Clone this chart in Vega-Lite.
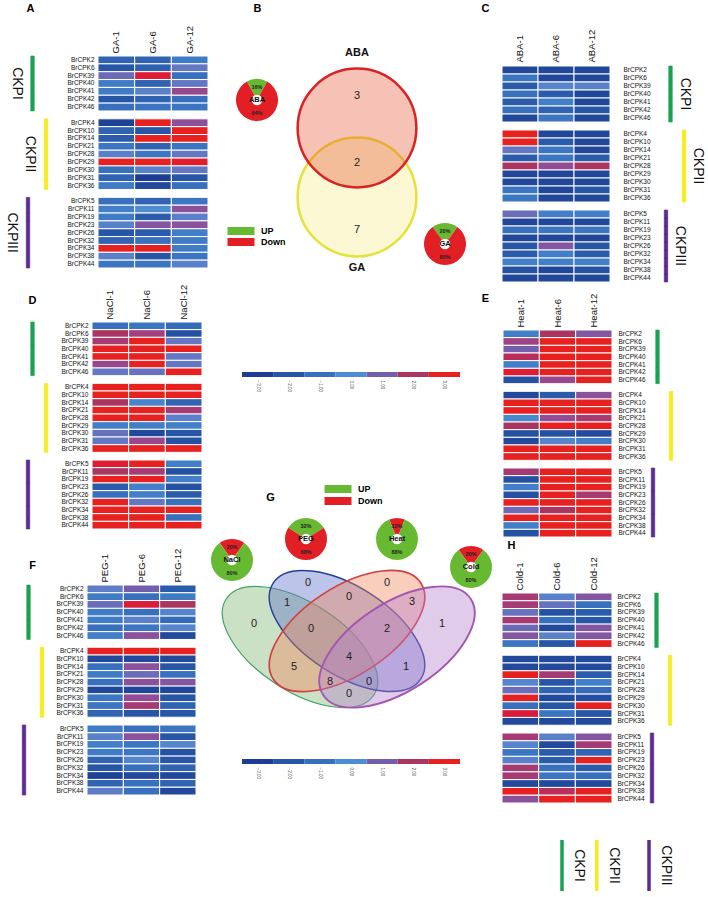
{
"$schema":"https://vega.github.io/schema/vega-lite/v6.json",
"width":708,"height":897,"padding":0,"autosize":{"type":"none"},"background":"white",
"config":{"view":{"stroke":null},"font":"Liberation Sans","axis":{"labelFont":"Liberation Sans","labelColor":"#111","ticks":false,"domain":false,"grid":false,"titleAngle":0,"titleAlign":"center","titleBaseline":"middle","titleFontSize":11,"titleFontWeight":"bold","titleColor":"#000","titleFont":"Liberation Sans"},"text":{"font":"Liberation Sans"}},
"resolve":{"scale":{"x":"independent","y":"independent","color":"independent","fill":"independent","stroke":"independent","shape":"independent","strokeWidth":"independent"}},
"datasets":{
"groups":[{"g":"BrCPK2","grp":"CKPI"},{"g":"BrCPK6","grp":"CKPI"},{"g":"BrCPK39","grp":"CKPI"},{"g":"BrCPK40","grp":"CKPI","mid":true},{"g":"BrCPK41","grp":"CKPI"},{"g":"BrCPK42","grp":"CKPI"},{"g":"BrCPK46","grp":"CKPI"},{"g":"BrCPK4","grp":"CKPII"},{"g":"BrCPK10","grp":"CKPII"},{"g":"BrCPK14","grp":"CKPII"},{"g":"BrCPK21","grp":"CKPII"},{"g":"BrCPK28","grp":"CKPII","mid":true},{"g":"BrCPK29","grp":"CKPII"},{"g":"BrCPK30","grp":"CKPII"},{"g":"BrCPK31","grp":"CKPII"},{"g":"BrCPK36","grp":"CKPII"},{"g":"BrCPK5","grp":"CKPIII"},{"g":"BrCPK11","grp":"CKPIII"},{"g":"BrCPK19","grp":"CKPIII"},{"g":"BrCPK23","grp":"CKPIII"},{"g":"BrCPK26","grp":"CKPIII","mid":true},{"g":"BrCPK32","grp":"CKPIII"},{"g":"BrCPK34","grp":"CKPIII"},{"g":"BrCPK38","grp":"CKPIII"},{"g":"BrCPK44","grp":"CKPIII"}],
"scalebar":[{"v":-3},{"v":-2},{"v":-1},{"v":0},{"v":1},{"v":2},{"v":3}],
"GA":[
{"g":"BrCPK2","t":"GA-1","v":-1.5},{"g":"BrCPK2","t":"GA-6","v":-1.5},{"g":"BrCPK2","t":"GA-12","v":-0.6},
{"g":"BrCPK6","t":"GA-1","v":-2},{"g":"BrCPK6","t":"GA-6","v":-1.6},{"g":"BrCPK6","t":"GA-12","v":0.5},
{"g":"BrCPK39","t":"GA-1","v":0.8},{"g":"BrCPK39","t":"GA-6","v":2.8},{"g":"BrCPK39","t":"GA-12","v":-1},
{"g":"BrCPK40","t":"GA-1","v":-0.6},{"g":"BrCPK40","t":"GA-6","v":-1.5},{"g":"BrCPK40","t":"GA-12","v":0.5},
{"g":"BrCPK41","t":"GA-1","v":-0.6},{"g":"BrCPK41","t":"GA-6","v":0.3},{"g":"BrCPK41","t":"GA-12","v":1.5},
{"g":"BrCPK42","t":"GA-1","v":-2},{"g":"BrCPK42","t":"GA-6","v":-1.5},{"g":"BrCPK42","t":"GA-12","v":-1},
{"g":"BrCPK46","t":"GA-1","v":-1},{"g":"BrCPK46","t":"GA-6","v":-0.8},{"g":"BrCPK46","t":"GA-12","v":-0.8},
{"g":"BrCPK4","t":"GA-1","v":-2.8},{"g":"BrCPK4","t":"GA-6","v":3},{"g":"BrCPK4","t":"GA-12","v":1.3},
{"g":"BrCPK10","t":"GA-1","v":-1.5},{"g":"BrCPK10","t":"GA-6","v":-2},{"g":"BrCPK10","t":"GA-12","v":3},
{"g":"BrCPK14","t":"GA-1","v":-1.8},{"g":"BrCPK14","t":"GA-6","v":3},{"g":"BrCPK14","t":"GA-12","v":3},
{"g":"BrCPK21","t":"GA-1","v":-0.8},{"g":"BrCPK21","t":"GA-6","v":-1.5},{"g":"BrCPK21","t":"GA-12","v":-0.8},
{"g":"BrCPK28","t":"GA-1","v":0.3},{"g":"BrCPK28","t":"GA-6","v":-0.8},{"g":"BrCPK28","t":"GA-12","v":0.5},
{"g":"BrCPK29","t":"GA-1","v":3},{"g":"BrCPK29","t":"GA-6","v":3},{"g":"BrCPK29","t":"GA-12","v":2.9},
{"g":"BrCPK30","t":"GA-1","v":-1},{"g":"BrCPK30","t":"GA-6","v":0.3},{"g":"BrCPK30","t":"GA-12","v":0.5},
{"g":"BrCPK31","t":"GA-1","v":-1.5},{"g":"BrCPK31","t":"GA-6","v":-3},{"g":"BrCPK31","t":"GA-12","v":-2},
{"g":"BrCPK36","t":"GA-1","v":-0.6},{"g":"BrCPK36","t":"GA-6","v":-2.5},{"g":"BrCPK36","t":"GA-12","v":-1},
{"g":"BrCPK5","t":"GA-1","v":-1},{"g":"BrCPK5","t":"GA-6","v":-1.5},{"g":"BrCPK5","t":"GA-12","v":-0.8},
{"g":"BrCPK11","t":"GA-1","v":-0.5},{"g":"BrCPK11","t":"GA-6","v":0},{"g":"BrCPK11","t":"GA-12","v":1.3},
{"g":"BrCPK19","t":"GA-1","v":-0.6},{"g":"BrCPK19","t":"GA-6","v":-1.8},{"g":"BrCPK19","t":"GA-12","v":0.3},
{"g":"BrCPK23","t":"GA-1","v":0.3},{"g":"BrCPK23","t":"GA-6","v":1.2},{"g":"BrCPK23","t":"GA-12","v":1.3},
{"g":"BrCPK26","t":"GA-1","v":-2},{"g":"BrCPK26","t":"GA-6","v":-1.8},{"g":"BrCPK26","t":"GA-12","v":-0.5},
{"g":"BrCPK32","t":"GA-1","v":-1.5},{"g":"BrCPK32","t":"GA-6","v":-1},{"g":"BrCPK32","t":"GA-12","v":-0.6},
{"g":"BrCPK34","t":"GA-1","v":3},{"g":"BrCPK34","t":"GA-6","v":3},{"g":"BrCPK34","t":"GA-12","v":-0.6},
{"g":"BrCPK38","t":"GA-1","v":0.3},{"g":"BrCPK38","t":"GA-6","v":-2},{"g":"BrCPK38","t":"GA-12","v":-0.8},
{"g":"BrCPK44","t":"GA-1","v":-0.8},{"g":"BrCPK44","t":"GA-6","v":-0.8},{"g":"BrCPK44","t":"GA-12","v":0.3}],
"ABA":[
{"g":"BrCPK2","t":"ABA-1","v":-2.6},{"g":"BrCPK2","t":"ABA-6","v":-2.6},{"g":"BrCPK2","t":"ABA-12","v":-2.6},
{"g":"BrCPK6","t":"ABA-1","v":-0.8},{"g":"BrCPK6","t":"ABA-6","v":-2.6},{"g":"BrCPK6","t":"ABA-12","v":-2.6},
{"g":"BrCPK39","t":"ABA-1","v":-1.8},{"g":"BrCPK39","t":"ABA-6","v":0.2},{"g":"BrCPK39","t":"ABA-12","v":0.3},
{"g":"BrCPK40","t":"ABA-1","v":-1},{"g":"BrCPK40","t":"ABA-6","v":-1.8},{"g":"BrCPK40","t":"ABA-12","v":-2.6},
{"g":"BrCPK41","t":"ABA-1","v":-1.8},{"g":"BrCPK41","t":"ABA-6","v":-0.5},{"g":"BrCPK41","t":"ABA-12","v":-2.6},
{"g":"BrCPK42","t":"ABA-1","v":-1},{"g":"BrCPK42","t":"ABA-6","v":-1.5},{"g":"BrCPK42","t":"ABA-12","v":-2},
{"g":"BrCPK46","t":"ABA-1","v":-2.6},{"g":"BrCPK46","t":"ABA-6","v":-0.8},{"g":"BrCPK46","t":"ABA-12","v":-2.6},
{"g":"BrCPK4","t":"ABA-1","v":3},{"g":"BrCPK4","t":"ABA-6","v":-2.6},{"g":"BrCPK4","t":"ABA-12","v":-2.6},
{"g":"BrCPK10","t":"ABA-1","v":3},{"g":"BrCPK10","t":"ABA-6","v":-1.8},{"g":"BrCPK10","t":"ABA-12","v":-2.6},
{"g":"BrCPK14","t":"ABA-1","v":0.5},{"g":"BrCPK14","t":"ABA-6","v":-0.8},{"g":"BrCPK14","t":"ABA-12","v":-2.6},
{"g":"BrCPK21","t":"ABA-1","v":-1.8},{"g":"BrCPK21","t":"ABA-6","v":-0.8},{"g":"BrCPK21","t":"ABA-12","v":-1.8},
{"g":"BrCPK28","t":"ABA-1","v":2},{"g":"BrCPK28","t":"ABA-6","v":1.4},{"g":"BrCPK28","t":"ABA-12","v":2},
{"g":"BrCPK29","t":"ABA-1","v":-2.6},{"g":"BrCPK29","t":"ABA-6","v":-2.6},{"g":"BrCPK29","t":"ABA-12","v":-2.6},
{"g":"BrCPK30","t":"ABA-1","v":-2.6},{"g":"BrCPK30","t":"ABA-6","v":-2.6},{"g":"BrCPK30","t":"ABA-12","v":-2.6},
{"g":"BrCPK31","t":"ABA-1","v":-0.8},{"g":"BrCPK31","t":"ABA-6","v":-2.6},{"g":"BrCPK31","t":"ABA-12","v":-2},
{"g":"BrCPK36","t":"ABA-1","v":-0.8},{"g":"BrCPK36","t":"ABA-6","v":-2.6},{"g":"BrCPK36","t":"ABA-12","v":-2.6},
{"g":"BrCPK5","t":"ABA-1","v":0.7},{"g":"BrCPK5","t":"ABA-6","v":-0.5},{"g":"BrCPK5","t":"ABA-12","v":-0.5},
{"g":"BrCPK11","t":"ABA-1","v":-2.6},{"g":"BrCPK11","t":"ABA-6","v":-2.6},{"g":"BrCPK11","t":"ABA-12","v":-2.6},
{"g":"BrCPK19","t":"ABA-1","v":-1},{"g":"BrCPK19","t":"ABA-6","v":-0.8},{"g":"BrCPK19","t":"ABA-12","v":-0.8},
{"g":"BrCPK23","t":"ABA-1","v":-2.6},{"g":"BrCPK23","t":"ABA-6","v":-2.6},{"g":"BrCPK23","t":"ABA-12","v":-2.6},
{"g":"BrCPK26","t":"ABA-1","v":-2},{"g":"BrCPK26","t":"ABA-6","v":1.2},{"g":"BrCPK26","t":"ABA-12","v":-2},
{"g":"BrCPK32","t":"ABA-1","v":-1.8},{"g":"BrCPK32","t":"ABA-6","v":-0.5},{"g":"BrCPK32","t":"ABA-12","v":-1.8},
{"g":"BrCPK34","t":"ABA-1","v":-0.5},{"g":"BrCPK34","t":"ABA-6","v":-0.5},{"g":"BrCPK34","t":"ABA-12","v":-0.5},
{"g":"BrCPK38","t":"ABA-1","v":-2.2},{"g":"BrCPK38","t":"ABA-6","v":-2.6},{"g":"BrCPK38","t":"ABA-12","v":-2.2},
{"g":"BrCPK44","t":"ABA-1","v":-2.6},{"g":"BrCPK44","t":"ABA-6","v":-2.6},{"g":"BrCPK44","t":"ABA-12","v":-2.6}],
"NaCl":[
{"g":"BrCPK2","t":"NaCl-1","v":-1},{"g":"BrCPK2","t":"NaCl-6","v":-0.8},{"g":"BrCPK2","t":"NaCl-12","v":-1.2},
{"g":"BrCPK6","t":"NaCl-1","v":2},{"g":"BrCPK6","t":"NaCl-6","v":1.7},{"g":"BrCPK6","t":"NaCl-12","v":-2.2},
{"g":"BrCPK39","t":"NaCl-1","v":1.8},{"g":"BrCPK39","t":"NaCl-6","v":3},{"g":"BrCPK39","t":"NaCl-12","v":0.5},
{"g":"BrCPK40","t":"NaCl-1","v":3},{"g":"BrCPK40","t":"NaCl-6","v":3},{"g":"BrCPK40","t":"NaCl-12","v":3},
{"g":"BrCPK41","t":"NaCl-1","v":3},{"g":"BrCPK41","t":"NaCl-6","v":3},{"g":"BrCPK41","t":"NaCl-12","v":0.5},
{"g":"BrCPK42","t":"NaCl-1","v":1.5},{"g":"BrCPK42","t":"NaCl-6","v":3},{"g":"BrCPK42","t":"NaCl-12","v":0.5},
{"g":"BrCPK46","t":"NaCl-1","v":0.5},{"g":"BrCPK46","t":"NaCl-6","v":0.6},{"g":"BrCPK46","t":"NaCl-12","v":3},
{"g":"BrCPK4","t":"NaCl-1","v":3},{"g":"BrCPK4","t":"NaCl-6","v":3},{"g":"BrCPK4","t":"NaCl-12","v":3},
{"g":"BrCPK10","t":"NaCl-1","v":3},{"g":"BrCPK10","t":"NaCl-6","v":3},{"g":"BrCPK10","t":"NaCl-12","v":3},
{"g":"BrCPK14","t":"NaCl-1","v":2},{"g":"BrCPK14","t":"NaCl-6","v":-0.3},{"g":"BrCPK14","t":"NaCl-12","v":-1.5},
{"g":"BrCPK21","t":"NaCl-1","v":3},{"g":"BrCPK21","t":"NaCl-6","v":3},{"g":"BrCPK21","t":"NaCl-12","v":1.8},
{"g":"BrCPK28","t":"NaCl-1","v":3},{"g":"BrCPK28","t":"NaCl-6","v":3},{"g":"BrCPK28","t":"NaCl-12","v":0.3},
{"g":"BrCPK29","t":"NaCl-1","v":-0.5},{"g":"BrCPK29","t":"NaCl-6","v":-0.5},{"g":"BrCPK29","t":"NaCl-12","v":-0.5},
{"g":"BrCPK30","t":"NaCl-1","v":0.6},{"g":"BrCPK30","t":"NaCl-6","v":-2.5},{"g":"BrCPK30","t":"NaCl-12","v":-2},
{"g":"BrCPK31","t":"NaCl-1","v":0.5},{"g":"BrCPK31","t":"NaCl-6","v":1.5},{"g":"BrCPK31","t":"NaCl-12","v":-2.2},
{"g":"BrCPK36","t":"NaCl-1","v":3},{"g":"BrCPK36","t":"NaCl-6","v":3},{"g":"BrCPK36","t":"NaCl-12","v":3},
{"g":"BrCPK5","t":"NaCl-1","v":2.8},{"g":"BrCPK5","t":"NaCl-6","v":3},{"g":"BrCPK5","t":"NaCl-12","v":-0.5},
{"g":"BrCPK11","t":"NaCl-1","v":2},{"g":"BrCPK11","t":"NaCl-6","v":1.8},{"g":"BrCPK11","t":"NaCl-12","v":-2.2},
{"g":"BrCPK19","t":"NaCl-1","v":3},{"g":"BrCPK19","t":"NaCl-6","v":3},{"g":"BrCPK19","t":"NaCl-12","v":-0.5},
{"g":"BrCPK23","t":"NaCl-1","v":-1.8},{"g":"BrCPK23","t":"NaCl-6","v":-0.5},{"g":"BrCPK23","t":"NaCl-12","v":-2.2},
{"g":"BrCPK26","t":"NaCl-1","v":-1},{"g":"BrCPK26","t":"NaCl-6","v":-0.5},{"g":"BrCPK26","t":"NaCl-12","v":-1.8},
{"g":"BrCPK32","t":"NaCl-1","v":3},{"g":"BrCPK32","t":"NaCl-6","v":0.5},{"g":"BrCPK32","t":"NaCl-12","v":-1},
{"g":"BrCPK34","t":"NaCl-1","v":3},{"g":"BrCPK34","t":"NaCl-6","v":3},{"g":"BrCPK34","t":"NaCl-12","v":3},
{"g":"BrCPK38","t":"NaCl-1","v":3},{"g":"BrCPK38","t":"NaCl-6","v":3},{"g":"BrCPK38","t":"NaCl-12","v":-1},
{"g":"BrCPK44","t":"NaCl-1","v":3},{"g":"BrCPK44","t":"NaCl-6","v":3},{"g":"BrCPK44","t":"NaCl-12","v":3}],
"Heat":[
{"g":"BrCPK2","t":"Heat-1","v":-0.5},{"g":"BrCPK2","t":"Heat-6","v":2},{"g":"BrCPK2","t":"Heat-12","v":1.2},
{"g":"BrCPK6","t":"Heat-1","v":1.6},{"g":"BrCPK6","t":"Heat-6","v":3},{"g":"BrCPK6","t":"Heat-12","v":3},
{"g":"BrCPK39","t":"Heat-1","v":1},{"g":"BrCPK39","t":"Heat-6","v":3},{"g":"BrCPK39","t":"Heat-12","v":3},
{"g":"BrCPK40","t":"Heat-1","v":2.2},{"g":"BrCPK40","t":"Heat-6","v":3},{"g":"BrCPK40","t":"Heat-12","v":3},
{"g":"BrCPK41","t":"Heat-1","v":-0.5},{"g":"BrCPK41","t":"Heat-6","v":3},{"g":"BrCPK41","t":"Heat-12","v":3},
{"g":"BrCPK42","t":"Heat-1","v":2.8},{"g":"BrCPK42","t":"Heat-6","v":3},{"g":"BrCPK42","t":"Heat-12","v":3},
{"g":"BrCPK46","t":"Heat-1","v":-2.2},{"g":"BrCPK46","t":"Heat-6","v":1.5},{"g":"BrCPK46","t":"Heat-12","v":3},
{"g":"BrCPK4","t":"Heat-1","v":-2.5},{"g":"BrCPK4","t":"Heat-6","v":-1.8},{"g":"BrCPK4","t":"Heat-12","v":1.3},
{"g":"BrCPK10","t":"Heat-1","v":3},{"g":"BrCPK10","t":"Heat-6","v":3},{"g":"BrCPK10","t":"Heat-12","v":3},
{"g":"BrCPK14","t":"Heat-1","v":3},{"g":"BrCPK14","t":"Heat-6","v":3},{"g":"BrCPK14","t":"Heat-12","v":3},
{"g":"BrCPK21","t":"Heat-1","v":-0.2},{"g":"BrCPK21","t":"Heat-6","v":1.4},{"g":"BrCPK21","t":"Heat-12","v":1.8},
{"g":"BrCPK28","t":"Heat-1","v":2},{"g":"BrCPK28","t":"Heat-6","v":3},{"g":"BrCPK28","t":"Heat-12","v":3},
{"g":"BrCPK29","t":"Heat-1","v":-2.2},{"g":"BrCPK29","t":"Heat-6","v":-2.2},{"g":"BrCPK29","t":"Heat-12","v":-2.5},
{"g":"BrCPK30","t":"Heat-1","v":-2.5},{"g":"BrCPK30","t":"Heat-6","v":0.2},{"g":"BrCPK30","t":"Heat-12","v":-0.5},
{"g":"BrCPK31","t":"Heat-1","v":3},{"g":"BrCPK31","t":"Heat-6","v":3},{"g":"BrCPK31","t":"Heat-12","v":3},
{"g":"BrCPK36","t":"Heat-1","v":3},{"g":"BrCPK36","t":"Heat-6","v":3},{"g":"BrCPK36","t":"Heat-12","v":3},
{"g":"BrCPK5","t":"Heat-1","v":1.8},{"g":"BrCPK5","t":"Heat-6","v":3},{"g":"BrCPK5","t":"Heat-12","v":3},
{"g":"BrCPK11","t":"Heat-1","v":-2.2},{"g":"BrCPK11","t":"Heat-6","v":3},{"g":"BrCPK11","t":"Heat-12","v":3},
{"g":"BrCPK19","t":"Heat-1","v":-0.5},{"g":"BrCPK19","t":"Heat-6","v":3},{"g":"BrCPK19","t":"Heat-12","v":3},
{"g":"BrCPK23","t":"Heat-1","v":-2.2},{"g":"BrCPK23","t":"Heat-6","v":3},{"g":"BrCPK23","t":"Heat-12","v":1.8},
{"g":"BrCPK26","t":"Heat-1","v":3},{"g":"BrCPK26","t":"Heat-6","v":3},{"g":"BrCPK26","t":"Heat-12","v":3},
{"g":"BrCPK32","t":"Heat-1","v":0.8},{"g":"BrCPK32","t":"Heat-6","v":2},{"g":"BrCPK32","t":"Heat-12","v":3},
{"g":"BrCPK34","t":"Heat-1","v":3},{"g":"BrCPK34","t":"Heat-6","v":3},{"g":"BrCPK34","t":"Heat-12","v":3},
{"g":"BrCPK38","t":"Heat-1","v":-0.5},{"g":"BrCPK38","t":"Heat-6","v":3},{"g":"BrCPK38","t":"Heat-12","v":3},
{"g":"BrCPK44","t":"Heat-1","v":-2.2},{"g":"BrCPK44","t":"Heat-6","v":3},{"g":"BrCPK44","t":"Heat-12","v":3}],
"PEG":[
{"g":"BrCPK2","t":"PEG-1","v":0.4},{"g":"BrCPK2","t":"PEG-6","v":1},{"g":"BrCPK2","t":"PEG-12","v":-1.8},
{"g":"BrCPK6","t":"PEG-1","v":-0.6},{"g":"BrCPK6","t":"PEG-6","v":-1},{"g":"BrCPK6","t":"PEG-12","v":-0.6},
{"g":"BrCPK39","t":"PEG-1","v":0.7},{"g":"BrCPK39","t":"PEG-6","v":2.7},{"g":"BrCPK39","t":"PEG-12","v":2},
{"g":"BrCPK40","t":"PEG-1","v":-0.6},{"g":"BrCPK40","t":"PEG-6","v":-1},{"g":"BrCPK40","t":"PEG-12","v":0.2},
{"g":"BrCPK41","t":"PEG-1","v":-0.6},{"g":"BrCPK41","t":"PEG-6","v":0.3},{"g":"BrCPK41","t":"PEG-12","v":-1.2},
{"g":"BrCPK42","t":"PEG-1","v":-1},{"g":"BrCPK42","t":"PEG-6","v":-0.8},{"g":"BrCPK42","t":"PEG-12","v":0.2},
{"g":"BrCPK46","t":"PEG-1","v":-0.5},{"g":"BrCPK46","t":"PEG-6","v":1.3},{"g":"BrCPK46","t":"PEG-12","v":-2.5},
{"g":"BrCPK4","t":"PEG-1","v":3},{"g":"BrCPK4","t":"PEG-6","v":3},{"g":"BrCPK4","t":"PEG-12","v":3},
{"g":"BrCPK10","t":"PEG-1","v":-2.5},{"g":"BrCPK10","t":"PEG-6","v":-2.5},{"g":"BrCPK10","t":"PEG-12","v":-2.5},
{"g":"BrCPK14","t":"PEG-1","v":-1},{"g":"BrCPK14","t":"PEG-6","v":1.3},{"g":"BrCPK14","t":"PEG-12","v":-2},
{"g":"BrCPK21","t":"PEG-1","v":-0.6},{"g":"BrCPK21","t":"PEG-6","v":0.7},{"g":"BrCPK21","t":"PEG-12","v":-1},
{"g":"BrCPK28","t":"PEG-1","v":-1},{"g":"BrCPK28","t":"PEG-6","v":1.3},{"g":"BrCPK28","t":"PEG-12","v":1.2},
{"g":"BrCPK29","t":"PEG-1","v":-2.6},{"g":"BrCPK29","t":"PEG-6","v":-2.6},{"g":"BrCPK29","t":"PEG-12","v":-2.6},
{"g":"BrCPK30","t":"PEG-1","v":-0.8},{"g":"BrCPK30","t":"PEG-6","v":1.4},{"g":"BrCPK30","t":"PEG-12","v":-2},
{"g":"BrCPK31","t":"PEG-1","v":-0.8},{"g":"BrCPK31","t":"PEG-6","v":1.8},{"g":"BrCPK31","t":"PEG-12","v":-1.5},
{"g":"BrCPK36","t":"PEG-1","v":-1.5},{"g":"BrCPK36","t":"PEG-6","v":-2},{"g":"BrCPK36","t":"PEG-12","v":-2},
{"g":"BrCPK5","t":"PEG-1","v":-0.6},{"g":"BrCPK5","t":"PEG-6","v":-1},{"g":"BrCPK5","t":"PEG-12","v":-0.8},
{"g":"BrCPK11","t":"PEG-1","v":0.3},{"g":"BrCPK11","t":"PEG-6","v":1.3},{"g":"BrCPK11","t":"PEG-12","v":-2},
{"g":"BrCPK19","t":"PEG-1","v":-0.5},{"g":"BrCPK19","t":"PEG-6","v":-0.8},{"g":"BrCPK19","t":"PEG-12","v":0.2},
{"g":"BrCPK23","t":"PEG-1","v":-0.6},{"g":"BrCPK23","t":"PEG-6","v":-0.8},{"g":"BrCPK23","t":"PEG-12","v":-2.2},
{"g":"BrCPK26","t":"PEG-1","v":-1.5},{"g":"BrCPK26","t":"PEG-6","v":0.2},{"g":"BrCPK26","t":"PEG-12","v":-2},
{"g":"BrCPK32","t":"PEG-1","v":-2},{"g":"BrCPK32","t":"PEG-6","v":-1},{"g":"BrCPK32","t":"PEG-12","v":-1.5},
{"g":"BrCPK34","t":"PEG-1","v":-2.8},{"g":"BrCPK34","t":"PEG-6","v":-2.5},{"g":"BrCPK34","t":"PEG-12","v":-2.5},
{"g":"BrCPK38","t":"PEG-1","v":-1.5},{"g":"BrCPK38","t":"PEG-6","v":-1},{"g":"BrCPK38","t":"PEG-12","v":-1.5},
{"g":"BrCPK44","t":"PEG-1","v":0.4},{"g":"BrCPK44","t":"PEG-6","v":-1},{"g":"BrCPK44","t":"PEG-12","v":-2.5}],
"Cold":[
{"g":"BrCPK2","t":"Cold-1","v":1.8},{"g":"BrCPK2","t":"Cold-6","v":0.3},{"g":"BrCPK2","t":"Cold-12","v":1.2},
{"g":"BrCPK6","t":"Cold-1","v":1.8},{"g":"BrCPK6","t":"Cold-6","v":0.6},{"g":"BrCPK6","t":"Cold-12","v":-1},
{"g":"BrCPK39","t":"Cold-1","v":0.6},{"g":"BrCPK39","t":"Cold-6","v":-2.2},{"g":"BrCPK39","t":"Cold-12","v":-1.8},
{"g":"BrCPK40","t":"Cold-1","v":1.8},{"g":"BrCPK40","t":"Cold-6","v":-1},{"g":"BrCPK40","t":"Cold-12","v":-2},
{"g":"BrCPK41","t":"Cold-1","v":0.8},{"g":"BrCPK41","t":"Cold-6","v":-2.5},{"g":"BrCPK41","t":"Cold-12","v":1.2},
{"g":"BrCPK42","t":"Cold-1","v":1.2},{"g":"BrCPK42","t":"Cold-6","v":0.3},{"g":"BrCPK42","t":"Cold-12","v":1.2},
{"g":"BrCPK46","t":"Cold-1","v":-0.8},{"g":"BrCPK46","t":"Cold-6","v":-2},{"g":"BrCPK46","t":"Cold-12","v":3},
{"g":"BrCPK4","t":"Cold-1","v":-2.5},{"g":"BrCPK4","t":"Cold-6","v":-2.5},{"g":"BrCPK4","t":"Cold-12","v":-2.5},
{"g":"BrCPK10","t":"Cold-1","v":-2.5},{"g":"BrCPK10","t":"Cold-6","v":-2.5},{"g":"BrCPK10","t":"Cold-12","v":-2.5},
{"g":"BrCPK14","t":"Cold-1","v":3},{"g":"BrCPK14","t":"Cold-6","v":1.8},{"g":"BrCPK14","t":"Cold-12","v":-1.8},
{"g":"BrCPK21","t":"Cold-1","v":0.2},{"g":"BrCPK21","t":"Cold-6","v":-2},{"g":"BrCPK21","t":"Cold-12","v":-0.5},
{"g":"BrCPK28","t":"Cold-1","v":0.7},{"g":"BrCPK28","t":"Cold-6","v":-1.5},{"g":"BrCPK28","t":"Cold-12","v":-1.2},
{"g":"BrCPK29","t":"Cold-1","v":3},{"g":"BrCPK29","t":"Cold-6","v":-2.5},{"g":"BrCPK29","t":"Cold-12","v":-2.3},
{"g":"BrCPK30","t":"Cold-1","v":-1},{"g":"BrCPK30","t":"Cold-6","v":-2},{"g":"BrCPK30","t":"Cold-12","v":3},
{"g":"BrCPK31","t":"Cold-1","v":2.7},{"g":"BrCPK31","t":"Cold-6","v":-0.8},{"g":"BrCPK31","t":"Cold-12","v":-2},
{"g":"BrCPK36","t":"Cold-1","v":-2.5},{"g":"BrCPK36","t":"Cold-6","v":-2.5},{"g":"BrCPK36","t":"Cold-12","v":-2.5},
{"g":"BrCPK5","t":"Cold-1","v":1.8},{"g":"BrCPK5","t":"Cold-6","v":0.3},{"g":"BrCPK5","t":"Cold-12","v":1.2},
{"g":"BrCPK11","t":"Cold-1","v":0.2},{"g":"BrCPK11","t":"Cold-6","v":-2.5},{"g":"BrCPK11","t":"Cold-12","v":1.8},
{"g":"BrCPK19","t":"Cold-1","v":-0.8},{"g":"BrCPK19","t":"Cold-6","v":-1.8},{"g":"BrCPK19","t":"Cold-12","v":-1.5},
{"g":"BrCPK23","t":"Cold-1","v":0.3},{"g":"BrCPK23","t":"Cold-6","v":-1.8},{"g":"BrCPK23","t":"Cold-12","v":3},
{"g":"BrCPK26","t":"Cold-1","v":1.8},{"g":"BrCPK26","t":"Cold-6","v":-1},{"g":"BrCPK26","t":"Cold-12","v":-1.8},
{"g":"BrCPK32","t":"Cold-1","v":1.8},{"g":"BrCPK32","t":"Cold-6","v":-0.8},{"g":"BrCPK32","t":"Cold-12","v":-1},
{"g":"BrCPK34","t":"Cold-1","v":-2.5},{"g":"BrCPK34","t":"Cold-6","v":-2.5},{"g":"BrCPK34","t":"Cold-12","v":-2.5},
{"g":"BrCPK38","t":"Cold-1","v":3},{"g":"BrCPK38","t":"Cold-6","v":2.2},{"g":"BrCPK38","t":"Cold-12","v":3},
{"g":"BrCPK44","t":"Cold-1","v":1.3},{"g":"BrCPK44","t":"Cold-6","v":3},{"g":"BrCPK44","t":"Cold-12","v":3}],
"setsB":[{"set":"GA","x":13.7,"y":8.3},{"set":"ABA","x":13.7,"y":15.2}],
"namesB":[{"t":"ABA","x":13.7,"y":22.7},{"t":"GA","x":13.7,"y":1.2}],
"countsB":[{"n":3,"x":13.7,"y":18.4},{"n":2,"x":13.7,"y":11.7},{"n":7,"x":13.7,"y":5.0}],
"slicesB":[{"pie":"ABA","s":"UP","a":-0.08,"b":0.08,"p":0.16,"x":3.7,"y":18.0},{"pie":"ABA","s":"Down","a":0.08,"b":0.92,"p":0.84,"x":3.7,"y":18.0},{"pie":"GA","s":"UP","a":-0.1,"b":0.1,"p":0.2,"x":22.5,"y":3.6},{"pie":"GA","s":"Down","a":0.1,"b":0.9,"p":0.8,"x":22.5,"y":3.6}],
"setsG":[{"set":"NaCl","x":8.0,"y":6.5},{"set":"PEG","x":12.7,"y":8.1},{"set":"Heat","x":12.7,"y":8.1},{"set":"Cold","x":17.7,"y":6.5}],
"countsG":[{"n":0,"x":3.4,"y":8.8},{"n":1,"x":6.7,"y":10.9},{"n":0,"x":8.8,"y":12.9},{"n":0,"x":16.7,"y":12.9},{"n":0,"x":12.9,"y":11.5},{"n":3,"x":19.2,"y":11.0},{"n":1,"x":22.2,"y":8.8},{"n":0,"x":9.1,"y":8.3},{"n":2,"x":16.7,"y":8.3},{"n":4,"x":12.9,"y":5.5},{"n":5,"x":7.4,"y":4.5},{"n":1,"x":18.6,"y":4.5},{"n":8,"x":11.0,"y":3.0},{"n":0,"x":14.9,"y":3.0},{"n":0,"x":12.9,"y":1.8}],
"slicesG":[{"pie":"NaCl","s":"Down","a":-0.1,"b":0.1,"p":0.2,"x":1.2,"y":15.2},{"pie":"NaCl","s":"UP","a":0.1,"b":0.9,"p":0.8,"x":1.2,"y":15.2},{"pie":"PEG","s":"UP","a":-0.16,"b":0.16,"p":0.32,"x":8.6,"y":17.3},{"pie":"PEG","s":"Down","a":0.16,"b":0.84,"p":0.68,"x":8.6,"y":17.3},{"pie":"Heat","s":"Down","a":-0.06,"b":0.06,"p":0.12,"x":17.7,"y":17.3},{"pie":"Heat","s":"UP","a":0.06,"b":0.94,"p":0.88,"x":17.7,"y":17.3},{"pie":"Cold","s":"Down","a":-0.1,"b":0.1,"p":0.2,"x":25.1,"y":14.5},{"pie":"Cold","s":"UP","a":0.1,"b":0.9,"p":0.8,"x":25.1,"y":14.5}]
},
"layer":[
{"encoding":{"y":{"field":"g","type":"nominal","scale":{"domain":["BrCPK2","BrCPK6","BrCPK39","BrCPK40","BrCPK41","BrCPK42","BrCPK46"," ","BrCPK4","BrCPK10","BrCPK14","BrCPK21","BrCPK28","BrCPK29","BrCPK30","BrCPK31","BrCPK36","  ","BrCPK5","BrCPK11","BrCPK19","BrCPK23","BrCPK26","BrCPK32","BrCPK34","BrCPK38","BrCPK44"],"range":[56,268],"paddingInner":0,"paddingOuter":0},"axis":{"orient":"left","offset":-98,"title":null,"labelFontSize":6.5,"labelPadding":4}}},
"layer":[
{"data":{"name":"GA"},"mark":{"type":"rect","stroke":"white","strokeWidth":1},"encoding":{"x":{"field":"t","type":"nominal","scale":{"domain":["GA-1","GA-6","GA-12"],"range":[98,208],"paddingInner":0,"paddingOuter":0},"axis":{"orient":"top","offset":-56,"labelAngle":-90,"labelFontSize":9.5,"labelPadding":3,"title":"A","titleX":30,"titleY":-48}},"color":{"field":"v","type":"quantitative","scale":{"domain":[-3,-2,-1,0,1,2,3],"range":["#1c3d91","#2856a7","#3870bd","#4d8ed3","#735fab","#aa3660","#e6211f"]},"legend":null}}},
{"data":{"name":"groups"},"encoding":{"x":{"field":"grp","type":"nominal","scale":{"type":"point","domain":["CKPIII","CKPI","_1","_2","CKPII"],"range":[28,46],"padding":0},"axis":null}},
"layer":[
{"mark":{"type":"rect","width":3.5,"strokeWidth":0.6},"encoding":{"fill":{"field":"grp","type":"nominal","scale":{"domain":["CKPI","CKPII","CKPIII"],"range":["#1aa153","#f6ec1d","#5b2c8e"]},"legend":null},"stroke":{"field":"grp","type":"nominal","scale":{"domain":["CKPI","CKPII","CKPIII"],"range":["#1aa153","#f6ec1d","#5b2c8e"]},"legend":null}}},
{"transform":[{"filter":"datum.mid"}],"mark":{"type":"text","angle":90,"fontSize":14,"dy":16,"color":"#111"},"encoding":{"text":{"field":"grp"}}}]}],
"resolve":{"scale":{"x":"independent"}}},
{"encoding":{"y":{"field":"g","type":"nominal","scale":{"domain":["BrCPK2","BrCPK6","BrCPK39","BrCPK40","BrCPK41","BrCPK42","BrCPK46"," ","BrCPK4","BrCPK10","BrCPK14","BrCPK21","BrCPK28","BrCPK29","BrCPK30","BrCPK31","BrCPK36","  ","BrCPK5","BrCPK11","BrCPK19","BrCPK23","BrCPK26","BrCPK32","BrCPK34","BrCPK38","BrCPK44"],"range":[322,529],"paddingInner":0,"paddingOuter":0},"axis":{"orient":"left","offset":-92,"title":null,"labelFontSize":6.5,"labelPadding":4}}},
"layer":[
{"data":{"name":"NaCl"},"mark":{"type":"rect","stroke":"white","strokeWidth":1},"encoding":{"x":{"field":"t","type":"nominal","scale":{"domain":["NaCl-1","NaCl-6","NaCl-12"],"range":[92,202],"paddingInner":0,"paddingOuter":0},"axis":{"orient":"top","offset":-322,"labelAngle":-90,"labelFontSize":9.5,"labelPadding":3,"title":"D","titleX":32,"titleY":-22}},"color":{"field":"v","type":"quantitative","scale":{"domain":[-3,-2,-1,0,1,2,3],"range":["#1c3d91","#2856a7","#3870bd","#4d8ed3","#735fab","#aa3660","#e6211f"]},"legend":null}}},
{"data":{"name":"groups"},"mark":{"type":"rect","width":3.5,"strokeWidth":0.6},"encoding":{"x":{"field":"grp","type":"nominal","scale":{"type":"point","domain":["CKPIII","CKPI","_1","_2","CKPII"],"range":[28,46],"padding":0},"axis":null},"fill":{"field":"grp","type":"nominal","scale":{"domain":["CKPI","CKPII","CKPIII"],"range":["#1aa153","#f6ec1d","#5b2c8e"]},"legend":null},"stroke":{"field":"grp","type":"nominal","scale":{"domain":["CKPI","CKPII","CKPIII"],"range":["#1aa153","#f6ec1d","#5b2c8e"]},"legend":null}}}],
"resolve":{"scale":{"x":"independent"}}},
{"encoding":{"y":{"field":"g","type":"nominal","scale":{"domain":["BrCPK2","BrCPK6","BrCPK39","BrCPK40","BrCPK41","BrCPK42","BrCPK46"," ","BrCPK4","BrCPK10","BrCPK14","BrCPK21","BrCPK28","BrCPK29","BrCPK30","BrCPK31","BrCPK36","  ","BrCPK5","BrCPK11","BrCPK19","BrCPK23","BrCPK26","BrCPK32","BrCPK34","BrCPK38","BrCPK44"],"range":[585,795],"paddingInner":0,"paddingOuter":0},"axis":{"orient":"left","offset":-87,"title":null,"labelFontSize":6.5,"labelPadding":4}}},
"layer":[
{"data":{"name":"PEG"},"mark":{"type":"rect","stroke":"white","strokeWidth":1},"encoding":{"x":{"field":"t","type":"nominal","scale":{"domain":["PEG-1","PEG-6","PEG-12"],"range":[87,196],"paddingInner":0,"paddingOuter":0},"axis":{"orient":"top","offset":-585,"labelAngle":-90,"labelFontSize":9.5,"labelPadding":3,"title":"F","titleX":32,"titleY":-20}},"color":{"field":"v","type":"quantitative","scale":{"domain":[-3,-2,-1,0,1,2,3],"range":["#1c3d91","#2856a7","#3870bd","#4d8ed3","#735fab","#aa3660","#e6211f"]},"legend":null}}},
{"data":{"name":"groups"},"mark":{"type":"rect","width":3.5,"strokeWidth":0.6},"encoding":{"x":{"field":"grp","type":"nominal","scale":{"type":"point","domain":["CKPIII","CKPI","_1","_2","CKPII"],"range":[24,42],"padding":0},"axis":null},"fill":{"field":"grp","type":"nominal","scale":{"domain":["CKPI","CKPII","CKPIII"],"range":["#1aa153","#f6ec1d","#5b2c8e"]},"legend":null},"stroke":{"field":"grp","type":"nominal","scale":{"domain":["CKPI","CKPII","CKPIII"],"range":["#1aa153","#f6ec1d","#5b2c8e"]},"legend":null}}}],
"resolve":{"scale":{"x":"independent"}}},
{"encoding":{"y":{"field":"g","type":"nominal","scale":{"domain":["BrCPK2","BrCPK6","BrCPK39","BrCPK40","BrCPK41","BrCPK42","BrCPK46"," ","BrCPK4","BrCPK10","BrCPK14","BrCPK21","BrCPK28","BrCPK29","BrCPK30","BrCPK31","BrCPK36","  ","BrCPK5","BrCPK11","BrCPK19","BrCPK23","BrCPK26","BrCPK32","BrCPK34","BrCPK38","BrCPK44"],"range":[66,282],"paddingInner":0,"paddingOuter":0},"axis":{"orient":"right","offset":-98,"title":null,"labelFontSize":6.5,"labelPadding":13}}},
"layer":[
{"data":{"name":"ABA"},"mark":{"type":"rect","stroke":"white","strokeWidth":1},"encoding":{"x":{"field":"t","type":"nominal","scale":{"domain":["ABA-1","ABA-6","ABA-12"],"range":[502,610],"paddingInner":0,"paddingOuter":0},"axis":{"orient":"top","offset":-66,"labelAngle":-90,"labelFontSize":9.5,"labelPadding":4,"title":"C","titleX":485,"titleY":-58}},"color":{"field":"v","type":"quantitative","scale":{"domain":[-3,-2,-1,0,1,2,3],"range":["#1c3d91","#2856a7","#3870bd","#4d8ed3","#735fab","#aa3660","#e6211f"]},"legend":null}}},
{"data":{"name":"groups"},"encoding":{"x":{"field":"grp","type":"nominal","scale":{"type":"point","domain":["CKPIII","CKPI","_1","_2","CKPII"],"range":[666,684],"padding":0},"axis":null}},
"layer":[
{"mark":{"type":"rect","width":3.5,"strokeWidth":0.6},"encoding":{"fill":{"field":"grp","type":"nominal","scale":{"domain":["CKPI","CKPII","CKPIII"],"range":["#1aa153","#f6ec1d","#5b2c8e"]},"legend":null},"stroke":{"field":"grp","type":"nominal","scale":{"domain":["CKPI","CKPII","CKPIII"],"range":["#1aa153","#f6ec1d","#5b2c8e"]},"legend":null}}},
{"transform":[{"filter":"datum.mid"}],"mark":{"type":"text","angle":90,"fontSize":14,"dy":-14,"color":"#111"},"encoding":{"text":{"field":"grp"}}}]}],
"resolve":{"scale":{"x":"independent"}}},
{"encoding":{"y":{"field":"g","type":"nominal","scale":{"domain":["BrCPK2","BrCPK6","BrCPK39","BrCPK40","BrCPK41","BrCPK42","BrCPK46"," ","BrCPK4","BrCPK10","BrCPK14","BrCPK21","BrCPK28","BrCPK29","BrCPK30","BrCPK31","BrCPK36","  ","BrCPK5","BrCPK11","BrCPK19","BrCPK23","BrCPK26","BrCPK32","BrCPK34","BrCPK38","BrCPK44"],"range":[330,537],"paddingInner":0,"paddingOuter":0},"axis":{"orient":"right","offset":-96,"title":null,"labelFontSize":6.5,"labelPadding":6}}},
"layer":[
{"data":{"name":"Heat"},"mark":{"type":"rect","stroke":"white","strokeWidth":1},"encoding":{"x":{"field":"t","type":"nominal","scale":{"domain":["Heat-1","Heat-6","Heat-12"],"range":[503,612],"paddingInner":0,"paddingOuter":0},"axis":{"orient":"top","offset":-330,"labelAngle":-90,"labelFontSize":9.5,"labelPadding":3,"title":"E","titleX":485,"titleY":-32}},"color":{"field":"v","type":"quantitative","scale":{"domain":[-3,-2,-1,0,1,2,3],"range":["#1c3d91","#2856a7","#3870bd","#4d8ed3","#735fab","#aa3660","#e6211f"]},"legend":null}}},
{"data":{"name":"groups"},"mark":{"type":"rect","width":3.5,"strokeWidth":0.6},"encoding":{"x":{"field":"grp","type":"nominal","scale":{"type":"point","domain":["CKPIII","CKPI","_1","_2","CKPII"],"range":[653,671],"padding":0},"axis":null},"fill":{"field":"grp","type":"nominal","scale":{"domain":["CKPI","CKPII","CKPIII"],"range":["#1aa153","#f6ec1d","#5b2c8e"]},"legend":null},"stroke":{"field":"grp","type":"nominal","scale":{"domain":["CKPI","CKPII","CKPIII"],"range":["#1aa153","#f6ec1d","#5b2c8e"]},"legend":null}}}],
"resolve":{"scale":{"x":"independent"}}},
{"encoding":{"y":{"field":"g","type":"nominal","scale":{"domain":["BrCPK2","BrCPK6","BrCPK39","BrCPK40","BrCPK41","BrCPK42","BrCPK46"," ","BrCPK4","BrCPK10","BrCPK14","BrCPK21","BrCPK28","BrCPK29","BrCPK30","BrCPK31","BrCPK36","  ","BrCPK5","BrCPK11","BrCPK19","BrCPK23","BrCPK26","BrCPK32","BrCPK34","BrCPK38","BrCPK44"],"range":[593,803],"paddingInner":0,"paddingOuter":0},"axis":{"orient":"right","offset":-96,"title":null,"labelFontSize":6.5,"labelPadding":5}}},
"layer":[
{"data":{"name":"Cold"},"mark":{"type":"rect","stroke":"white","strokeWidth":1},"encoding":{"x":{"field":"t","type":"nominal","scale":{"domain":["Cold-1","Cold-6","Cold-12"],"range":[502,612],"paddingInner":0,"paddingOuter":0},"axis":{"orient":"top","offset":-593,"labelAngle":-90,"labelFontSize":9.5,"labelPadding":3,"title":"H","titleX":511,"titleY":-48}},"color":{"field":"v","type":"quantitative","scale":{"domain":[-3,-2,-1,0,1,2,3],"range":["#1c3d91","#2856a7","#3870bd","#4d8ed3","#735fab","#aa3660","#e6211f"]},"legend":null}}},
{"data":{"name":"groups"},"mark":{"type":"rect","width":3.5,"strokeWidth":0.6},"encoding":{"x":{"field":"grp","type":"nominal","scale":{"type":"point","domain":["CKPIII","CKPI","_1","_2","CKPII"],"range":[652,670],"padding":0},"axis":null},"fill":{"field":"grp","type":"nominal","scale":{"domain":["CKPI","CKPII","CKPIII"],"range":["#1aa153","#f6ec1d","#5b2c8e"]},"legend":null},"stroke":{"field":"grp","type":"nominal","scale":{"domain":["CKPI","CKPII","CKPIII"],"range":["#1aa153","#f6ec1d","#5b2c8e"]},"legend":null}}}],
"resolve":{"scale":{"x":"independent"}}},
{"data":{"values":[{"grp":"CKPI"},{"grp":"CKPII"},{"grp":"CKPIII"}]},
"encoding":{"x":{"field":"grp","type":"nominal","scale":{"type":"point","domain":["CKPI","_a","CKPII","_b","_c","CKPIII"],"range":[562,649],"padding":0},"axis":null},"y":{"datum":"key","type":"nominal","scale":{"domain":["key"],"range":[840,891],"paddingInner":0,"paddingOuter":0},"axis":null}},
"layer":[
{"mark":{"type":"rect","width":3.5},"encoding":{"fill":{"field":"grp","type":"nominal","scale":{"domain":["CKPI","CKPII","CKPIII"],"range":["#1aa153","#f6ec1d","#5b2c8e"]},"legend":null}}},
{"mark":{"type":"text","angle":90,"fontSize":14,"dy":-17,"color":"#111"},"encoding":{"text":{"field":"grp"}}}]},
{"encoding":{"x":{"field":"x","type":"quantitative","scale":{"domain":[0,26],"range":[220,480],"nice":false,"zero":false},"axis":{"orient":"top","labels":false,"title":"B","titleX":257,"titleY":8}},"y":{"field":"y","type":"quantitative","scale":{"domain":[0,28],"range":[280,0],"nice":false,"zero":false},"axis":null}},
"layer":[
{"data":{"name":"setsB"},"mark":{"type":"point","filled":true,"shape":"circle","size":14103,"opacity":1,"fillOpacity":0.35,"strokeWidth":2.5,"strokeOpacity":1},"encoding":{"fill":{"field":"set","type":"nominal","scale":{"domain":["ABA","GA"],"range":["#e8502f","#f3ea80"]},"legend":null},"stroke":{"field":"set","type":"nominal","scale":{"domain":["ABA","GA"],"range":["#d92323","#e4e23b"]},"legend":null}}},
{"data":{"name":"namesB"},"mark":{"type":"text","fontSize":11,"fontWeight":"bold","color":"#111"},"encoding":{"text":{"field":"t"}}},
{"data":{"name":"countsB"},"mark":{"type":"text","fontSize":11,"color":"#222"},"encoding":{"text":{"field":"n"}}},
{"data":{"name":"slicesB"},"mark":{"type":"arc","outerRadius":21},"encoding":{"theta":{"field":"a","type":"quantitative","stack":null,"scale":{"domain":[0,1],"range":[0,6.2832]}},"theta2":{"field":"b"},"color":{"field":"s","type":"nominal","scale":{"domain":["UP","Down"],"range":["#67b932","#e31f26"]},"legend":{"title":null,"orient":"none","legendX":235,"legendY":225,"symbolType":"M-2.25,-0.67H2.25V0.67H-2.25Z","symbolSize":144,"labelFontSize":9,"labelFontWeight":"bold","labelOffset":14,"rowPadding":0,"symbolStrokeWidth":0}}}},
{"data":{"name":"slicesB"},"transform":[{"filter":"datum.p >= 0.5"}],"mark":{"type":"point","filled":true,"shape":"circle","size":110,"color":"white","opacity":1},"encoding":{}},
{"data":{"name":"slicesB"},"transform":[{"filter":"datum.p >= 0.5"}],"mark":{"type":"text","fontSize":7.5,"fontWeight":"bold","color":"#111"},"encoding":{"text":{"field":"pie"}}},
{"data":{"name":"slicesB"},"transform":[{"filter":"datum.p < 0.5"}],"mark":{"type":"text","fontSize":5.5,"fontWeight":"bold","color":"#222","dy":-13},"encoding":{"text":{"field":"p","format":".0%"}}},
{"data":{"name":"slicesB"},"transform":[{"filter":"datum.p >= 0.5"}],"mark":{"type":"text","fontSize":5.5,"fontWeight":"bold","color":"#222","dy":13},"encoding":{"text":{"field":"p","format":".0%"}}}
]},
{"data":{"name":"scalebar"},"mark":"rect","encoding":{"x":{"field":"v","type":"ordinal","scale":{"domain":[-3,-2,-1,0,1,2,3],"range":[242,460],"paddingInner":0,"paddingOuter":0},"axis":{"orient":"bottom","offset":-520,"title":null,"labelAngle":90,"labelFontSize":4.5,"labelColor":"#444","bandPosition":1,"labelExpr":"format(datum.value,'.2f')","labelPadding":3}},"y":{"datum":"bar","type":"nominal","scale":{"domain":["bar"],"range":[372,377],"paddingInner":0,"paddingOuter":0},"axis":null},"color":{"field":"v","type":"quantitative","scale":{"domain":[-3,-2,-1,0,1,2,3],"range":["#1c3d91","#2856a7","#3870bd","#4d8ed3","#735fab","#aa3660","#e6211f"]},"legend":null}}},
{"encoding":{"x":{"field":"x","type":"quantitative","scale":{"domain":[0,26],"range":[220,480],"nice":false,"zero":false},"axis":{"orient":"top","labels":false,"title":"G","titleX":270,"titleY":497}},"y":{"field":"y","type":"quantitative","scale":{"domain":[0,23.2],"range":[712,480],"nice":false,"zero":false},"axis":null}},
"layer":[
{"data":{"name":"setsG"},"mark":{"type":"point","filled":true,"size":30976,"opacity":1,"fillOpacity":0.4,"strokeOpacity":1},"encoding":{"shape":{"field":"set","type":"nominal","scale":{"domain":["NaCl","PEG","Heat","Cold"],"range":["M-0.839,-0.545A1,0.5,33,1,1,0.839,0.545A1,0.5,33,1,1,-0.839,-0.545Z","M-0.839,-0.545A1,0.5,33,1,1,0.839,0.545A1,0.5,33,1,1,-0.839,-0.545Z","M-0.839,0.545A1,0.5,-33,1,1,0.839,-0.545A1,0.5,-33,1,1,-0.839,0.545Z","M-0.839,0.545A1,0.5,-33,1,1,0.839,-0.545A1,0.5,-33,1,1,-0.839,0.545Z"]},"legend":null},"fill":{"field":"set","type":"nominal","scale":{"domain":["NaCl","PEG","Heat","Cold"],"range":["#7cb56e","#5a6cc8","#f0845a","#b37ccc"]},"legend":null},"stroke":{"field":"set","type":"nominal","scale":{"domain":["NaCl","PEG","Heat","Cold"],"range":["#43a068","#243f9a","#d33f3f","#a457b0"]},"legend":null},"strokeWidth":{"field":"set","type":"nominal","scale":{"domain":["NaCl","PEG","Heat","Cold"],"range":[1.2,1.9,1.3,1.2]},"legend":null}}},
{"data":{"name":"countsG"},"mark":{"type":"text","fontSize":11,"color":"#222"},"encoding":{"text":{"field":"n"}}},
{"data":{"name":"slicesG"},"mark":{"type":"arc","outerRadius":21},"encoding":{"theta":{"field":"a","type":"quantitative","stack":null,"scale":{"domain":[0,1],"range":[0,6.2832]}},"theta2":{"field":"b"},"color":{"field":"s","type":"nominal","scale":{"domain":["UP","Down"],"range":["#67b932","#e31f26"]},"legend":{"title":null,"orient":"none","legendX":332,"legendY":483,"symbolType":"M-2.25,-0.67H2.25V0.67H-2.25Z","symbolSize":144,"labelFontSize":9,"labelFontWeight":"bold","labelOffset":14,"rowPadding":1,"symbolStrokeWidth":0}}}},
{"data":{"name":"slicesG"},"transform":[{"filter":"datum.p >= 0.5"}],"mark":{"type":"point","filled":true,"shape":"circle","size":110,"color":"white","opacity":1},"encoding":{}},
{"data":{"name":"slicesG"},"transform":[{"filter":"datum.p >= 0.5"}],"mark":{"type":"text","fontSize":7.5,"fontWeight":"bold","color":"#111"},"encoding":{"text":{"field":"pie"}}},
{"data":{"name":"slicesG"},"transform":[{"filter":"datum.p < 0.5"}],"mark":{"type":"text","fontSize":5.5,"fontWeight":"bold","color":"#222","dy":-13},"encoding":{"text":{"field":"p","format":".0%"}}},
{"data":{"name":"slicesG"},"transform":[{"filter":"datum.p >= 0.5"}],"mark":{"type":"text","fontSize":5.5,"fontWeight":"bold","color":"#222","dy":13},"encoding":{"text":{"field":"p","format":".0%"}}}
]},
{"data":{"name":"scalebar"},"mark":"rect","encoding":{"x":{"field":"v","type":"ordinal","scale":{"domain":[-3,-2,-1,0,1,2,3],"range":[242,460],"paddingInner":0,"paddingOuter":0},"axis":{"orient":"bottom","offset":-133,"title":null,"labelAngle":90,"labelFontSize":4.5,"labelColor":"#444","bandPosition":1,"labelExpr":"format(datum.value,'.2f')","labelPadding":3}},"y":{"datum":"bar","type":"nominal","scale":{"domain":["bar"],"range":[759,764],"paddingInner":0,"paddingOuter":0},"axis":null},"color":{"field":"v","type":"quantitative","scale":{"domain":[-3,-2,-1,0,1,2,3],"range":["#1c3d91","#2856a7","#3870bd","#4d8ed3","#735fab","#aa3660","#e6211f"]},"legend":null}}}
]
}
